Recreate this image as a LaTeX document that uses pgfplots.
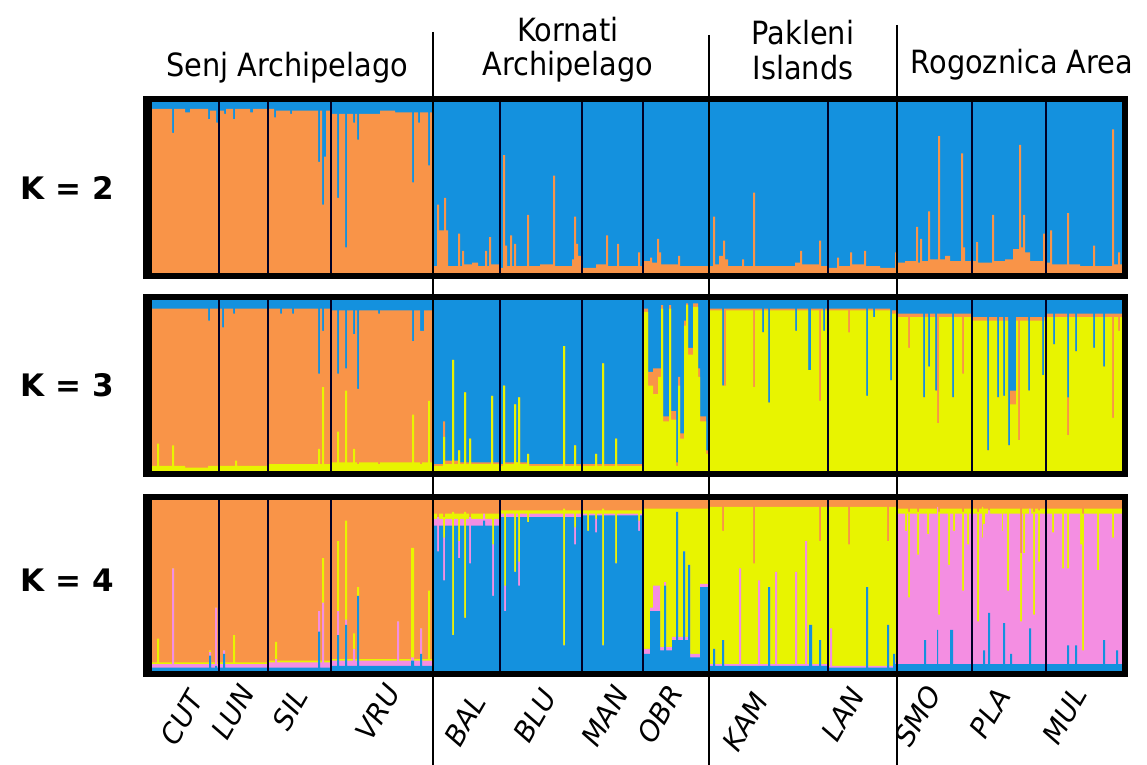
\documentclass[border=0pt]{standalone}
\usepackage{fontspec}
\usepackage{pgfplots}
\usepackage{pgfplotstable}
\pgfplotsset{compat=1.18}
\setmainfont{DejaVu Sans}
\newfontfamily\grpfont{DejaVu Sans Condensed}
\definecolor{corange}{RGB}{249,148,72}
\definecolor{cblue}{RGB}{20,145,222}
\definecolor{cyellow}{RGB}{232,244,0}
\definecolor{cpink}{RGB}{244,142,226}

% K = 2 : orange (bottom), blue (top)
\pgfplotstableread{
x O B
152 0.96 0.04
172 0.82 0.18
174 0.96 0.04
185 0.94 0.06
190 0.96 0.04
208 0.90 0.10
210 0.95 0.05
216 0.88 0.12
218 0.95 0.05
224 0.93 0.07
226 0.96 0.04
233 0.90 0.10
235 0.96 0.04
250 0.94 0.06
253 0.96 0.04
268 0.96 0.04
274 0.91 0.09
276 0.95 0.05
290 0.93 0.07
292 0.95 0.05
318 0.65 0.35
320 0.95 0.05
322 0.40 0.60
324 0.68 0.32
326 0.95 0.05
331 0.93 0.07
337 0.44 0.56
339 0.93 0.07
345 0.15 0.85
347 0.93 0.07
353 0.88 0.12
355 0.93 0.07
357 0.78 0.22
359 0.93 0.07
380 0.95 0.05
395 0.94 0.06
412 0.53 0.47
414 0.94 0.06
418 0.88 0.12
420 0.94 0.06
428 0.63 0.37
430 0.94 0.06
433 0.04 0.96
437 0.40 0.60
439 0.25 0.75
444 0.44 0.56
446 0.25 0.75
448 0.04 0.96
458 0.23 0.77
460 0.04 0.96
462 0.13 0.87
464 0.05 0.95
472 0.06 0.94
478 0.04 0.96
485 0.13 0.87
487 0.04 0.96
489 0.21 0.79
491 0.05 0.95
500 0.03 0.97
503 0.69 0.31
505 0.16 0.84
507 0.04 0.96
510 0.22 0.78
512 0.04 0.96
514 0.17 0.83
516 0.04 0.96
527 0.34 0.66
529 0.04 0.96
540 0.05 0.95
553 0.57 0.43
555 0.04 0.96
572 0.08 0.92
574 0.33 0.67
576 0.17 0.83
578 0.10 0.90
582 0.03 0.97
596 0.05 0.95
606 0.22 0.78
608 0.04 0.96
617 0.17 0.83
619 0.04 0.96
638 0.12 0.88
640 0.04 0.96
643 0.07 0.93
650 0.09 0.91
652 0.06 0.94
657 0.20 0.80
659 0.12 0.88
661 0.05 0.95
678 0.10 0.90
680 0.04 0.96
709 0.04 0.96
713 0.33 0.67
715 0.05 0.95
719 0.10 0.90
723 0.19 0.81
725 0.08 0.92
728 0.04 0.96
742 0.08 0.92
744 0.04 0.96
753 0.47 0.53
755 0.04 0.96
795 0.06 0.94
800 0.13 0.87
802 0.05 0.95
819 0.19 0.81
821 0.04 0.96
828 0.03 0.97
837 0.09 0.91
839 0.04 0.96
850 0.12 0.88
852 0.05 0.95
864 0.13 0.87
866 0.04 0.96
880 0.03 0.97
895 0.12 0.88
897 0.06 0.94
905 0.07 0.93
916 0.27 0.73
918 0.06 0.94
920 0.20 0.80
922 0.07 0.93
928 0.36 0.64
930 0.08 0.92
938 0.80 0.20
940 0.08 0.92
945 0.10 0.90
950 0.07 0.93
961 0.70 0.30
963 0.15 0.85
965 0.07 0.93
972 0.07 0.93
976 0.18 0.82
978 0.06 0.94
992 0.34 0.66
994 0.07 0.93
1005 0.08 0.92
1013 0.14 0.86
1019 0.75 0.25
1021 0.15 0.85
1023 0.34 0.66
1025 0.12 0.88
1030 0.07 0.93
1043 0.23 0.77
1045 0.06 0.94
1050 0.25 0.75
1052 0.05 0.95
1067 0.35 0.65
1069 0.05 0.95
1080 0.04 0.96
1093 0.16 0.84
1095 0.04 0.96
1112 0.84 0.16
1114 0.05 0.95
1118 0.12 0.88
1120 0.05 0.95
1122 0.05 0.95
}\kII

% K = 3 : yellow (bottom), orange, blue (top)
\pgfplotstableread{
x Y O B
152 0.03 0.92 0.05
157 0.16 0.79 0.05
159 0.03 0.92 0.05
172 0.15 0.80 0.05
174 0.03 0.92 0.05
185 0.02 0.93 0.05
208 0.03 0.85 0.12
210 0.03 0.92 0.05
222 0.03 0.81 0.16
224 0.03 0.92 0.05
233 0.03 0.89 0.08
235 0.06 0.89 0.05
237 0.03 0.92 0.05
268 0.04 0.91 0.05
280 0.04 0.88 0.08
282 0.04 0.91 0.05
292 0.04 0.88 0.08
294 0.04 0.91 0.05
318 0.13 0.44 0.43
320 0.04 0.91 0.05
322 0.49 0.33 0.18
324 0.04 0.91 0.05
331 0.05 0.89 0.06
337 0.23 0.34 0.43
339 0.05 0.89 0.06
345 0.47 0.13 0.40
347 0.05 0.89 0.06
353 0.13 0.67 0.20
355 0.05 0.89 0.06
357 0.04 0.44 0.52
359 0.05 0.89 0.06
378 0.04 0.88 0.08
380 0.05 0.89 0.06
412 0.33 0.43 0.24
414 0.05 0.89 0.06
420 0.04 0.78 0.18
422 0.05 0.77 0.18
424 0.05 0.89 0.06
428 0.41 0.53 0.06
430 0.05 0.89 0.06
433 0.03 0.01 0.96
443 0.20 0.09 0.71
445 0.04 0.02 0.94
452 0.65 0.00 0.35
454 0.04 0.02 0.94
458 0.12 0.00 0.88
460 0.04 0.01 0.95
464 0.46 0.00 0.54
466 0.04 0.01 0.95
469 0.19 0.00 0.81
471 0.04 0.01 0.95
491 0.44 0.00 0.56
493 0.04 0.01 0.95
500 0.03 0.01 0.96
503 0.50 0.00 0.50
505 0.04 0.01 0.95
514 0.39 0.00 0.61
516 0.05 0.00 0.95
518 0.43 0.00 0.57
520 0.04 0.01 0.95
527 0.10 0.00 0.90
529 0.03 0.01 0.96
563 0.73 0.00 0.27
565 0.03 0.01 0.96
574 0.15 0.00 0.85
576 0.03 0.01 0.96
582 0.03 0.01 0.96
595 0.10 0.00 0.90
597 0.03 0.01 0.96
602 0.63 0.00 0.37
604 0.03 0.01 0.96
615 0.19 0.00 0.81
617 0.03 0.01 0.96
643 0.93 0.02 0.05
648 0.50 0.08 0.42
653 0.45 0.15 0.40
658 0.55 0.05 0.40
661 0.95 0.02 0.03
663 0.29 0.03 0.68
669 0.95 0.02 0.03
671 0.30 0.05 0.65
676 0.03 0.02 0.95
678 0.50 0.05 0.45
680 0.19 0.03 0.78
684 0.85 0.03 0.12
686 0.97 0.01 0.02
688 0.68 0.04 0.28
693 0.96 0.02 0.02
698 0.55 0.05 0.40
700 0.29 0.03 0.68
706 0.10 0.02 0.88
709 0.94 0.01 0.05
722 0.50 0.00 0.50
724 0.50 0.45 0.05
726 0.94 0.01 0.05
753 0.49 0.46 0.05
755 0.94 0.01 0.05
762 0.81 0.00 0.19
764 0.94 0.01 0.05
768 0.40 0.00 0.60
770 0.94 0.01 0.05
795 0.82 0.00 0.18
797 0.94 0.01 0.05
808 0.59 0.00 0.41
811 0.94 0.01 0.05
819 0.41 0.54 0.05
821 0.94 0.01 0.05
823 0.82 0.00 0.18
825 0.94 0.01 0.05
848 0.81 0.14 0.05
850 0.94 0.01 0.05
866 0.44 0.00 0.56
868 0.94 0.01 0.05
873 0.90 0.00 0.10
875 0.94 0.01 0.05
890 0.53 0.00 0.47
892 0.92 0.02 0.06
897 0.90 0.02 0.08
908 0.72 0.20 0.08
910 0.90 0.02 0.08
923 0.43 0.00 0.57
925 0.90 0.02 0.08
928 0.61 0.00 0.39
930 0.90 0.02 0.08
935 0.47 0.00 0.53
937 0.28 0.64 0.08
939 0.90 0.02 0.08
952 0.43 0.00 0.57
954 0.90 0.02 0.08
962 0.57 0.35 0.08
964 0.90 0.02 0.08
972 0.88 0.02 0.10
987 0.12 0.00 0.88
989 0.88 0.02 0.10
997 0.43 0.00 0.57
999 0.88 0.02 0.10
1003 0.44 0.00 0.56
1005 0.88 0.02 0.10
1008 0.15 0.00 0.85
1010 0.39 0.08 0.53
1016 0.88 0.02 0.10
1018 0.18 0.72 0.10
1020 0.88 0.02 0.10
1028 0.47 0.00 0.53
1030 0.88 0.02 0.10
1042 0.56 0.00 0.44
1044 0.88 0.02 0.10
1046 0.90 0.02 0.08
1053 0.74 0.00 0.26
1055 0.90 0.02 0.08
1067 0.21 0.22 0.57
1069 0.90 0.02 0.08
1075 0.70 0.00 0.30
1077 0.90 0.02 0.08
1093 0.72 0.00 0.28
1095 0.90 0.02 0.08
1103 0.61 0.00 0.39
1105 0.90 0.02 0.08
1112 0.31 0.61 0.08
1114 0.90 0.02 0.08
1118 0.82 0.10 0.08
1120 0.90 0.02 0.08
1122 0.90 0.02 0.08
}\kIII

% K = 4 : blue (bottom), pink, yellow, orange (top)
\pgfplotstableread{
x B P Y O
152 0.02 0.02 0.01 0.95
157 0.02 0.02 0.15 0.81
159 0.02 0.02 0.01 0.95
172 0.02 0.58 0.00 0.40
174 0.02 0.02 0.01 0.95
209 0.09 0.02 0.01 0.88
211 0.02 0.02 0.01 0.95
215 0.03 0.34 0.00 0.63
217 0.02 0.02 0.01 0.95
223 0.10 0.02 0.00 0.88
225 0.02 0.02 0.01 0.95
233 0.02 0.02 0.17 0.79
235 0.02 0.02 0.01 0.95
268 0.02 0.03 0.01 0.94
275 0.02 0.05 0.10 0.83
277 0.02 0.03 0.01 0.94
318 0.23 0.12 0.00 0.65
320 0.02 0.03 0.01 0.94
322 0.02 0.38 0.26 0.34
324 0.02 0.03 0.01 0.94
331 0.03 0.03 0.01 0.93
337 0.21 0.14 0.41 0.24
339 0.03 0.03 0.01 0.93
345 0.27 0.03 0.58 0.12
347 0.03 0.03 0.01 0.93
353 0.03 0.10 0.09 0.78
355 0.03 0.03 0.01 0.93
357 0.44 0.00 0.05 0.51
359 0.03 0.03 0.01 0.93
397 0.03 0.26 0.00 0.71
399 0.03 0.03 0.01 0.93
411 0.06 0.02 0.64 0.28
414 0.03 0.03 0.01 0.93
420 0.10 0.15 0.00 0.75
422 0.03 0.03 0.01 0.93
428 0.03 0.03 0.41 0.53
430 0.03 0.03 0.01 0.93
433 0.85 0.04 0.03 0.08
437 0.70 0.20 0.00 0.10
439 0.85 0.04 0.03 0.08
443 0.53 0.25 0.12 0.10
445 0.85 0.04 0.03 0.08
452 0.21 0.00 0.72 0.07
454 0.85 0.04 0.03 0.08
458 0.66 0.10 0.16 0.08
460 0.85 0.04 0.03 0.08
464 0.31 0.00 0.62 0.07
466 0.85 0.04 0.03 0.08
469 0.63 0.27 0.00 0.10
471 0.85 0.04 0.03 0.08
483 0.88 0.04 0.00 0.08
485 0.85 0.04 0.03 0.08
492 0.44 0.30 0.18 0.08
494 0.85 0.04 0.03 0.08
500 0.90 0.02 0.02 0.06
504 0.35 0.15 0.44 0.06
506 0.90 0.02 0.02 0.06
514 0.58 0.00 0.36 0.06
516 0.90 0.02 0.02 0.06
518 0.50 0.14 0.30 0.06
520 0.90 0.02 0.02 0.06
527 0.87 0.00 0.07 0.06
529 0.90 0.02 0.02 0.06
563 0.15 0.00 0.80 0.05
565 0.90 0.02 0.02 0.06
574 0.74 0.10 0.10 0.06
576 0.90 0.02 0.02 0.06
582 0.91 0.01 0.02 0.06
587 0.82 0.00 0.12 0.06
589 0.91 0.01 0.02 0.06
595 0.81 0.08 0.05 0.06
597 0.91 0.01 0.02 0.06
602 0.15 0.00 0.80 0.05
604 0.91 0.01 0.02 0.06
615 0.63 0.00 0.31 0.06
617 0.91 0.01 0.02 0.06
638 0.82 0.06 0.06 0.06
640 0.91 0.01 0.02 0.06
643 0.10 0.03 0.82 0.05
650 0.35 0.02 0.58 0.05
653 0.35 0.15 0.45 0.05
660 0.12 0.02 0.81 0.05
664 0.50 0.02 0.43 0.05
666 0.12 0.02 0.81 0.05
672 0.18 0.02 0.75 0.05
676 0.93 0.00 0.02 0.05
678 0.18 0.02 0.75 0.05
683 0.70 0.00 0.25 0.05
685 0.18 0.02 0.75 0.05
688 0.62 0.00 0.33 0.05
690 0.08 0.02 0.85 0.05
700 0.49 0.02 0.44 0.05
709 0.03 0.01 0.92 0.04
713 0.13 0.00 0.83 0.04
715 0.03 0.01 0.92 0.04
722 0.18 0.00 0.64 0.18
724 0.03 0.01 0.92 0.04
739 0.03 0.57 0.36 0.04
741 0.03 0.01 0.92 0.04
753 0.03 0.01 0.59 0.37
755 0.03 0.01 0.92 0.04
758 0.03 0.50 0.43 0.04
760 0.03 0.01 0.92 0.04
768 0.49 0.00 0.47 0.04
770 0.03 0.01 0.92 0.04
775 0.03 0.55 0.38 0.04
777 0.03 0.01 0.92 0.04
795 0.03 0.55 0.38 0.04
797 0.03 0.01 0.92 0.04
805 0.03 0.73 0.20 0.04
807 0.03 0.01 0.92 0.04
809 0.27 0.00 0.69 0.04
812 0.03 0.01 0.92 0.04
819 0.18 0.00 0.58 0.24
821 0.03 0.01 0.92 0.04
828 0.02 0.01 0.93 0.04
830 0.02 0.23 0.71 0.04
832 0.02 0.01 0.93 0.04
848 0.02 0.01 0.71 0.26
850 0.02 0.01 0.93 0.04
866 0.49 0.00 0.47 0.04
868 0.02 0.01 0.93 0.04
887 0.27 0.00 0.49 0.24
889 0.02 0.01 0.93 0.04
893 0.10 0.00 0.86 0.04
895 0.04 0.01 0.91 0.04
897 0.04 0.88 0.03 0.05
905 0.04 0.78 0.13 0.05
907 0.04 0.88 0.03 0.05
908 0.04 0.39 0.50 0.07
910 0.04 0.88 0.03 0.05
917 0.04 0.64 0.25 0.07
919 0.04 0.88 0.03 0.05
924 0.18 0.74 0.03 0.05
926 0.04 0.88 0.03 0.05
927 0.04 0.76 0.15 0.05
929 0.04 0.88 0.03 0.05
937 0.24 0.72 0.00 0.04
938 0.04 0.29 0.60 0.07
940 0.04 0.88 0.03 0.05
948 0.04 0.58 0.33 0.05
950 0.24 0.68 0.03 0.05
953 0.04 0.78 0.13 0.05
955 0.04 0.88 0.03 0.05
962 0.04 0.43 0.46 0.07
964 0.04 0.88 0.03 0.05
967 0.04 0.70 0.21 0.05
969 0.04 0.88 0.03 0.05
972 0.04 0.88 0.03 0.05
977 0.04 0.25 0.64 0.07
979 0.04 0.88 0.03 0.05
982 0.04 0.74 0.18 0.04
983 0.12 0.74 0.09 0.05
985 0.04 0.88 0.03 0.05
988 0.34 0.60 0.00 0.06
990 0.04 0.88 0.03 0.05
1002 0.04 0.78 0.13 0.05
1003 0.28 0.64 0.03 0.05
1005 0.04 0.88 0.03 0.05
1007 0.04 0.43 0.48 0.05
1009 0.04 0.88 0.03 0.05
1010 0.10 0.82 0.03 0.05
1012 0.04 0.88 0.03 0.05
1020 0.04 0.25 0.40 0.31
1022 0.04 0.88 0.03 0.05
1023 0.04 0.65 0.26 0.05
1025 0.04 0.88 0.03 0.05
1029 0.25 0.70 0.00 0.05
1031 0.04 0.88 0.03 0.05
1033 0.04 0.29 0.60 0.07
1035 0.04 0.88 0.03 0.05
1038 0.04 0.60 0.30 0.06
1040 0.04 0.88 0.03 0.05
1046 0.04 0.88 0.03 0.05
1052 0.04 0.77 0.14 0.05
1054 0.04 0.88 0.03 0.05
1062 0.04 0.56 0.35 0.05
1064 0.04 0.88 0.03 0.05
1067 0.15 0.45 0.35 0.05
1069 0.04 0.88 0.03 0.05
1075 0.15 0.77 0.03 0.05
1077 0.04 0.88 0.03 0.05
1080 0.04 0.70 0.21 0.05
1082 0.04 0.08 0.80 0.08
1084 0.04 0.88 0.03 0.05
1097 0.04 0.55 0.36 0.05
1099 0.04 0.88 0.03 0.05
1103 0.18 0.74 0.03 0.05
1105 0.04 0.88 0.03 0.05
1112 0.04 0.74 0.17 0.05
1114 0.04 0.88 0.03 0.05
1116 0.12 0.80 0.03 0.05
1118 0.04 0.88 0.03 0.05
1122 0.04 0.88 0.03 0.05
}\kIV

% stacked layers are painted from the top layer down, each from 0 to its cumulative share
\pgfplotsset{strbox/.style={
  scale only axis, width=485pt, height=85.5pt,
  xmin=152, xmax=1122, ymin=0, ymax=1,
  hide axis, const plot, anchor=south west}}

\begin{document}
\begin{tikzpicture}
\path[use as bounding box] (0,0) rectangle (573.5pt,-382.5pt);

\begin{axis}[strbox, at={(76pt,-136.5pt)}]
\addplot[fill=cblue, draw=none] table[x=x,y expr=\thisrow{O}+\thisrow{B}]{\kII} \closedcycle;
\addplot[fill=corange, draw=none] table[x=x,y=O]{\kII} \closedcycle;
\end{axis}

\begin{axis}[strbox, at={(76pt,-235.5pt)}]
\addplot[fill=cblue, draw=none] table[x=x,y expr=\thisrow{Y}+\thisrow{O}+\thisrow{B}]{\kIII} \closedcycle;
\addplot[fill=corange, draw=none] table[x=x,y expr=\thisrow{Y}+\thisrow{O}]{\kIII} \closedcycle;
\addplot[fill=cyellow, draw=none] table[x=x,y=Y]{\kIII} \closedcycle;
\end{axis}

\begin{axis}[strbox, at={(76pt,-335.5pt)}]
\addplot[fill=corange, draw=none] table[x=x,y expr=\thisrow{B}+\thisrow{P}+\thisrow{Y}+\thisrow{O}]{\kIV} \closedcycle;
\addplot[fill=cyellow, draw=none] table[x=x,y expr=\thisrow{B}+\thisrow{P}+\thisrow{Y}]{\kIV} \closedcycle;
\addplot[fill=cpink, draw=none] table[x=x,y expr=\thisrow{B}+\thisrow{P}]{\kIV} \closedcycle;
\addplot[fill=cblue, draw=none] table[x=x,y=B]{\kIV} \closedcycle;
\end{axis}

\begin{scope}[x=0.5pt,y=-0.5pt]
% population boundaries
\foreach \yt/\yb in {102/273,300/471,500/671}{
  \foreach \xx in {219,268,331,500,582,643,828,972,1046}{
    \draw[line width=0.8pt, black!85!blue] (\xx,\yt) -- (\xx,\yb);
  }
}
% frames
\foreach \yt/\yb in {102/273,300/471,500/671}{
  \draw[line width=3pt] (149,\yt-3) rectangle (1125,\yb+3);
  \fill[black] (143,\yt-6) rectangle (152,\yb+6);
}
% group separators
\draw[line width=0.6pt] (433,32) -- (433,765);
\draw[line width=0.6pt] (709,35) -- (709,765);
\draw[line width=0.6pt] (897,25) -- (897,765);
% group titles
\begin{scope}[every node/.style={font=\grpfont\fontsize{16pt}{18pt}\selectfont, inner sep=0pt}]
\node at (287,68) {Senj Archipelago};
\node at (568,30) {Kornati};
\node at (568,67) {Archipelago};
\node at (803,33) {Pakleni};
\node at (803,68) {Islands};
\node at (1022,65) {Rogoznica Area};
\end{scope}
% K labels
\begin{scope}[every node/.style={font=\bfseries\fontsize{15.5pt}{18pt}\selectfont, inner sep=0pt}]
\node at (67,188) {K = 2};
\node at (67,385) {K = 3};
\node at (67,580) {K = 4};
\end{scope}
% population labels
\begin{scope}[every node/.style={font=\itshape\fontsize{14pt}{16pt}\selectfont, inner sep=0pt, rotate=60}]
\node at (182,718) {CUT};
\node at (233,712) {LUN};
\node at (290,709) {SIL};
\node at (378,712) {VRU};
\node at (465,720) {BAL};
\node at (535,716) {BLU};
\node at (605,716) {MAN};
\node at (660,714) {OBR};
\node at (745,722) {KAM};
\node at (843,714) {LAN};
\node at (918,716) {SMO};
\node at (990,713) {PLA};
\node at (1065,715) {MUL};
\end{scope}
\end{scope}
\end{tikzpicture}
\end{document}
